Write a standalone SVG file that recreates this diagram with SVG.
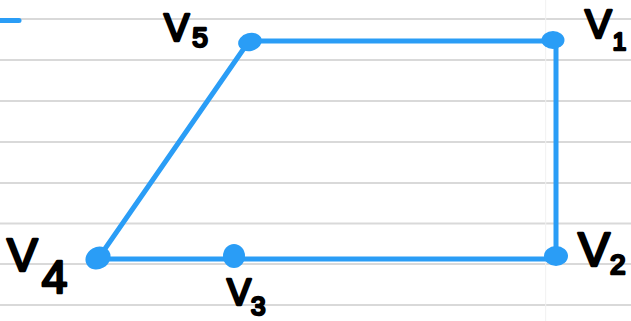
<svg xmlns="http://www.w3.org/2000/svg" width="631" height="321" viewBox="0 0 631 321">
<style>
.rule{stroke:#d9d9d9;stroke-width:2}
.edge{stroke:#2A9DF6;stroke-width:5;stroke-linecap:round;fill:none}
.dot{fill:#2A9DF6}
.lbl{font-family:"Liberation Sans",Arial,sans-serif;font-weight:normal;fill:#000;stroke:#000;stroke-width:2.6;stroke-linejoin:round;stroke-linecap:round}
</style>
<rect width="631" height="321" fill="#fff"/>
<g id="paper">
<line class="rule" x1="0" y1="19" x2="631" y2="19"/>
<line class="rule" x1="0" y1="60" x2="631" y2="60"/>
<line class="rule" x1="0" y1="101" x2="631" y2="101"/>
<line class="rule" x1="0" y1="142" x2="631" y2="142"/>
<line class="rule" x1="0" y1="183" x2="631" y2="183"/>
<line class="rule" x1="0" y1="223.5" x2="631" y2="223.5"/>
<line class="rule" x1="0" y1="264" x2="631" y2="264"/>
<line class="rule" x1="0" y1="305" x2="631" y2="305"/>
<line x1="545.7" y1="0" x2="545.7" y2="321" stroke="#f1f1f1" stroke-width="1"/>
<line class="edge" x1="0" y1="20.5" x2="19" y2="20.5"/>
</g>
<g id="connectors">
<line class="edge" x1="250" y1="41" x2="553" y2="41"/>
<line class="edge" x1="556" y1="41" x2="556" y2="257"/>
<line class="edge" x1="98" y1="259" x2="556" y2="259"/>
<line class="edge" x1="100" y1="256" x2="247" y2="44"/>
</g>
<g id="v5">
<ellipse class="dot" cx="250" cy="42" rx="12" ry="9" transform="rotate(-15 250 42)"/>
<text class="lbl" x="164" y="41" font-size="38">V<tspan font-size="28" dy="6" dx="3">5</tspan></text>
</g>
<g id="v1">
<ellipse class="dot" cx="553" cy="40" rx="11.5" ry="9"/>
<text class="lbl" x="585" y="38" font-size="40">V<tspan font-size="24" dy="12" dx="1">1</tspan></text>
</g>
<g id="v2">
<ellipse class="dot" cx="556" cy="256" rx="12" ry="10"/>
<text class="lbl" x="578" y="266" font-size="48">V<tspan font-size="28" dy="8" dx="0">2</tspan></text>
</g>
<g id="v3">
<ellipse class="dot" cx="234" cy="256" rx="11" ry="12"/>
<text class="lbl" x="227" y="305" font-size="36">V<tspan font-size="26" dy="10" dx="0">3</tspan></text>
</g>
<g id="v4">
<ellipse class="dot" cx="98" cy="258" rx="13" ry="11" transform="rotate(-30 98 258)"/>
<text class="lbl" x="7" y="271" font-size="46">V<tspan font-size="46" dy="22" dx="4">4</tspan></text>
</g>
</svg>
